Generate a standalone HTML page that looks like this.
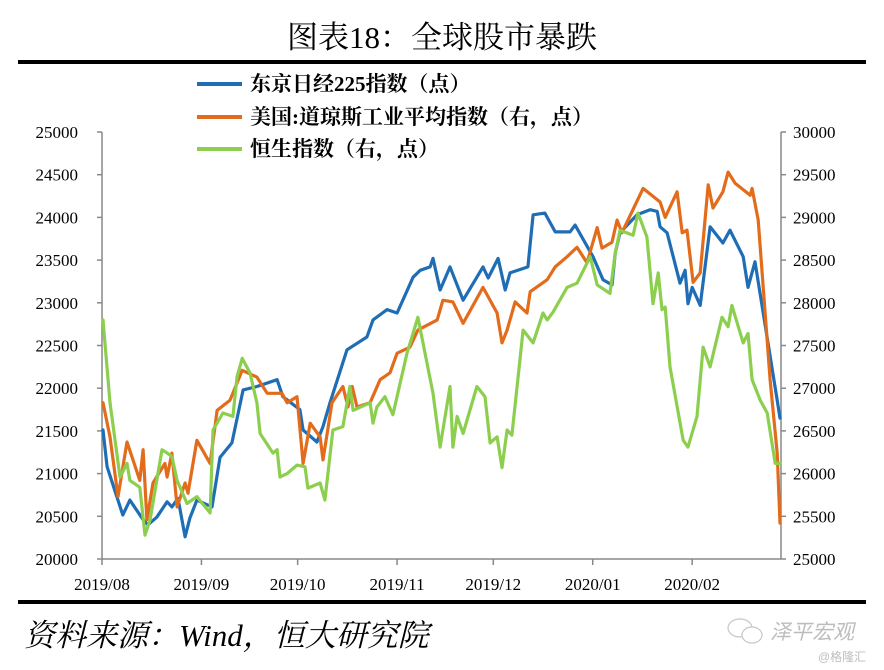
<!DOCTYPE html>
<html><head><meta charset="utf-8">
<style>
body{margin:0;background:#fff;}
#wrap{position:relative;width:884px;height:670px;overflow:hidden;background:#fff;font-family:"Liberation Serif","Noto Serif CJK SC",serif;}
</style></head>
<body>
<div id="wrap">
<svg id="chart" width="884" height="670" xmlns="http://www.w3.org/2000/svg">
  <text x="442" y="48" text-anchor="middle" font-size="31" font-family="Liberation Serif, Noto Serif CJK SC, serif" fill="#000">图表18：全球股市暴跌</text>
  <rect x="18" y="60" width="848" height="4" fill="#000"/>
  <g>
    <g>
      <line x1="197" y1="84" x2="242" y2="84" stroke="#1f6eb5" stroke-width="4"/>
      <text x="250" y="91" font-size="21" font-weight="bold" font-family="Liberation Serif, Noto Serif CJK SC, serif">东京日经225指数（点）</text>
    </g>
    <g>
      <line x1="197" y1="117" x2="242" y2="117" stroke="#e36c1c" stroke-width="4"/>
      <text x="250" y="124" font-size="21" font-weight="bold" font-family="Liberation Serif, Noto Serif CJK SC, serif">美国:道琼斯工业平均指数（右，点）</text>
    </g>
    <g>
      <line x1="197" y1="149" x2="242" y2="149" stroke="#8ccf4f" stroke-width="4"/>
      <text x="250" y="156" font-size="21" font-weight="bold" font-family="Liberation Serif, Noto Serif CJK SC, serif">恒生指数（右，点）</text>
    </g>
  </g>
  <g id="axes"></g>
  <g id="series"></g>
  <rect x="18" y="600" width="848" height="4" fill="#000"/>
  <text x="24" y="646" font-size="31" font-style="italic" font-family="Liberation Serif, Noto Serif CJK SC, serif">资料来源：Wind，恒大研究院</text>
  <g opacity="0.55">
    <ellipse cx="740" cy="628" rx="12" ry="9" fill="none" stroke="#999" stroke-width="1.2"/>
    <ellipse cx="752" cy="635" rx="10" ry="8" fill="#fff" stroke="#999" stroke-width="1.2"/>
    <text x="770" y="639" font-size="21" fill="#888" font-style="italic" font-family="Liberation Sans, Noto Sans CJK SC, sans-serif">泽平宏观</text>
    <text x="818" y="661" font-size="12" fill="#888" font-family="Liberation Sans, Noto Sans CJK SC, sans-serif">@格隆汇</text>
  </g>
</svg>
</div>
<script>
// ---- data (x = days since 2019-08-01) ----
const xTickLabels = ["2019/08","2019/09","2019/10","2019/11","2019/12","2020/01","2020/02"];
const xTickDays = [0,31,61,92,122,153,184];
const leftTicks = [20000,20500,21000,21500,22000,22500,23000,23500,24000,24500,25000];
const rightTicks = [25000,25500,26000,26500,27000,27500,28000,28500,29000,29500,30000];

const nikkeiDays = [0.3,1.6,6.5,8.7,12.8,14.3,17.1,20.3,21.8,23.7,25.9,27.4,29.6,34.3,36.8,40.5,44,48.3,54.6,56.4,61.7,62.7,67,68.9,71.1,76.4,82.6,84.5,88.9,92,97,99.2,102.3,103.2,105.4,108.5,112.6,118.8,120.4,123.5,125.7,127.2,132.8,134.4,138.1,141.3,145.9,147.5,153.1,156.2,159,160,161.5,166.8,170.9,173.1,174,176.2,180.2,181.8,182.7,184,186.5,189.6,193.6,195.8,199.9,201.4,203.6,210.5,211.4];
const nikkeiVals = [21510,21080,20515,20690,20460,20400,20490,20670,20610,20710,20260,20480,20690,20610,21190,21360,21980,22020,22100,21900,21750,21510,21370,21550,21830,22450,22600,22800,22920,22880,23300,23380,23420,23520,23150,23420,23030,23420,23290,23520,23150,23350,23420,24030,24050,23830,23830,23910,23540,23270,23210,23580,23820,24030,24090,24070,23890,23820,23230,23380,22990,23180,22970,23890,23700,23850,23540,23180,23480,21860,21650];

const dowDays = [0.3,2.5,5,7.8,11.8,12.8,14,15.9,19.6,20.3,21.8,23.4,25.9,26.8,29.6,33.7,35.9,39.9,43.7,48.3,51.5,56.1,57.7,60.8,62.7,64.9,68,68.9,71.7,75.1,76.7,78,79.5,83.6,86.7,89.8,92,96,98.5,104.5,106.3,109.4,112.6,118.8,123.2,124.7,126.3,128.8,132.5,133.5,138.8,141.3,145,148.1,151.2,154.4,155.9,159,160.6,162.1,168.7,174,175.6,179.3,180.9,182.4,184.3,186.5,189,190.5,193.6,195.2,197.4,202.1,202.7,204.6,208.3,210.5,211.4];
const dowVals = [26830,26430,25730,26370,25920,26280,25460,25890,26120,25960,26240,25610,25890,25770,26390,26120,26740,26860,27210,27130,26940,26940,26830,26900,26120,26590,26430,26160,26830,27020,26780,27020,26780,26830,27100,27180,27410,27480,27680,27800,28030,28010,27760,28180,27880,27530,27680,28010,27880,28130,28270,28420,28540,28650,28470,28880,28640,28710,28970,28820,29340,29180,29000,29300,28820,28850,28240,28350,29380,29110,29300,29530,29400,29260,29340,28970,27100,26240,25420];

const hsiDays = [0.3,2.5,5.6,7.8,8.7,11.8,13.4,15,18.7,20.3,21.8,23.4,26.5,29.6,33.7,34.6,37.7,40.8,42.1,43.7,46.1,48.3,49.3,53.3,54.6,55.5,57.7,60.8,63.3,64.2,68,69.5,72,75.1,77.3,78.3,83.6,84.5,85.7,88.2,90.7,95.1,98.5,103.2,105.4,108.5,109.4,110.7,112.6,116.9,119.4,121,123.2,124.7,126.3,127.8,131.3,134.4,137.5,138.8,140.6,145,148.1,152.2,154.4,158.4,160,161.5,165.6,167.1,169.9,171.8,173.4,174.6,175.6,177.1,181.2,182.7,185.5,187.4,189.6,193.3,195.2,196.4,199.9,201.4,202.7,205.2,207.4,209.9,211.4];
const hsiVals = [27800,26830,25960,26120,25920,25840,25280,25460,26280,26240,26200,25920,25650,25730,25540,26510,26710,26670,27130,27350,27180,26830,26470,26240,26280,25960,26000,26100,26080,25830,25890,25690,26510,26550,27020,26740,26830,26590,26780,26900,26690,27410,27830,26940,26310,27020,26310,26670,26470,27020,26900,26360,26430,26070,26510,26450,27680,27530,27880,27800,27890,28180,28230,28540,28210,28110,28580,28850,28790,29050,28770,27990,28350,27920,27950,27250,26390,26310,26670,27480,27250,27830,27720,27970,27530,27640,27100,26860,26710,26120,26120];

// ---- scales ----
const X0 = 102, X1 = 781, DAY_END = 211.7;
const YT = 132, YB = 559;
function xs(d){ return X0 + d/DAY_END*(X1-X0); }
function yl(v){ return YB - (v-20000)/5000*(YB-YT); }
function yr(v){ return YB - (v-25000)/5000*(YB-YT); }

const NS = "http://www.w3.org/2000/svg";
function mk(tag, attrs){ const e=document.createElementNS(NS,tag); for(const k in attrs) e.setAttribute(k,attrs[k]); return e; }
const axes = document.getElementById('axes');
const series = document.getElementById('series');
const FONT = "Liberation Serif, Noto Serif CJK SC, serif";

// left axis
let la = mk('line',{x1:X0,y1:YT,x2:X0,y2:YB,stroke:'#888','stroke-width':1.5});


axes.appendChild(la);
leftTicks.forEach(v=>{
  const y=yl(v);
  const t=mk('line',{x1:X0-5,y1:y,x2:X0,y2:y,stroke:'#888','stroke-width':1.5});
  
  
  axes.appendChild(t);
  const tx=mk('text',{x:78,y:y+6,'text-anchor':'end','font-size':17,'font-family':FONT});
  tx.textContent=v;
  
  
  axes.appendChild(tx);
});
// right axis
let ra = mk('line',{x1:X1,y1:YT,x2:X1,y2:YB,stroke:'#888','stroke-width':1.5});


axes.appendChild(ra);
rightTicks.forEach(v=>{
  const y=yr(v);
  const t=mk('line',{x1:X1,y1:y,x2:X1+5,y2:y,stroke:'#888','stroke-width':1.5});
  
  
  axes.appendChild(t);
  const tx=mk('text',{x:793,y:y+6,'text-anchor':'start','font-size':17,'font-family':FONT});
  tx.textContent=v;
  
  
  axes.appendChild(tx);
});
// x axis
let xa = mk('line',{x1:X0,y1:YB,x2:X1,y2:YB,stroke:'#888','stroke-width':1.5});


axes.appendChild(xa);
xTickDays.forEach((d,i)=>{
  const x=xs(d);
  const t=mk('line',{x1:x,y1:YB,x2:x,y2:YB+6,stroke:'#888','stroke-width':1.5});
  
  
  axes.appendChild(t);
  const tx=mk('text',{x:x,y:590,'text-anchor':'middle','font-size':17,'font-family':FONT});
  tx.textContent=xTickLabels[i];
  
  
  axes.appendChild(tx);
});

function drawLine(days, vals, yf, color, name){
  const pts = days.map((d,i)=>xs(d).toFixed(1)+','+yf(vals[i]).toFixed(1)).join(' ');
  const p = mk('polyline',{points:pts,fill:'none',stroke:color,'stroke-width':3.2,'stroke-linejoin':'round','stroke-linecap':'round'});
  
  
  series.appendChild(p);
}
drawLine(nikkeiDays, nikkeiVals, yl, '#1f6eb5', 'nikkei-line');
drawLine(dowDays, dowVals, yr, '#e36c1c', 'dow-line');
drawLine(hsiDays, hsiVals, yr, '#8ccf4f', 'hsi-line');
</script>
</body></html>
